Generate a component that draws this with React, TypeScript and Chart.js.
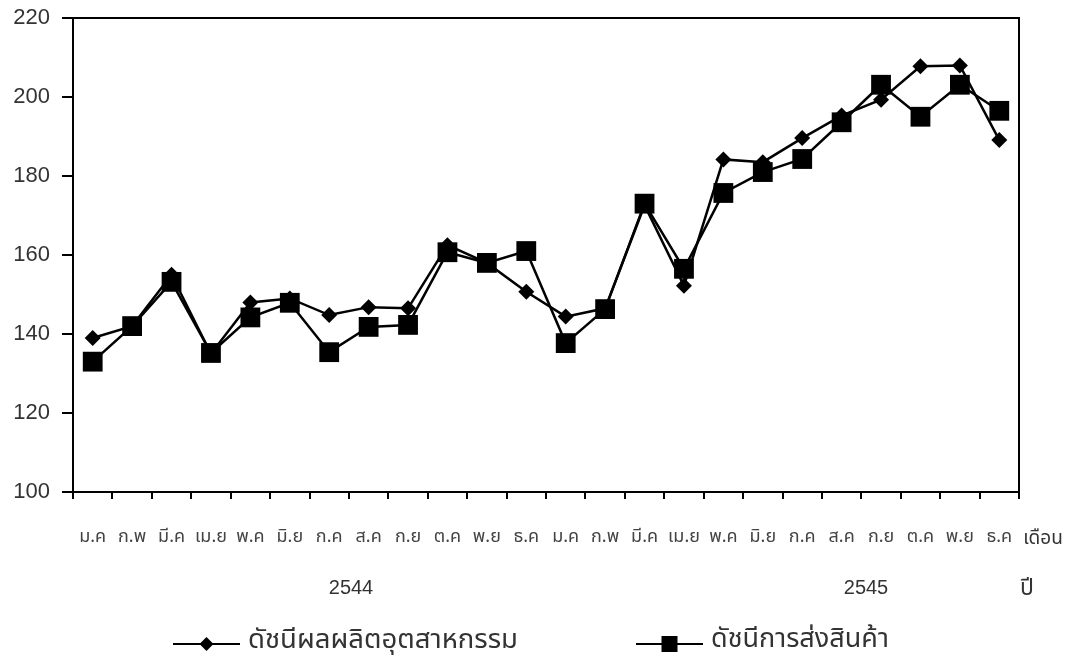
import React, { useEffect, useRef } from "react";
import { Chart, registerables } from "chart.js";

Chart.register(...registerables);

const months = ["ม.ค", "ก.พ", "มี.ค", "เม.ย", "พ.ค", "มิ.ย", "ก.ค", "ส.ค", "ก.ย", "ต.ค", "พ.ย", "ธ.ค"];
const categories = [...months, ...months];
const years = ["2544", "2545"];
const monthAxisTitle = "เดือน";
const yearAxisTitle = "ปี";

const industryLabel = "ดัชนีผลผลิตอุตสาหกรรม";
const exportLabel = "ดัชนีการส่งสินค้า";

const industryIndex = [139, 142, 155, 135, 148, 149, 144.8, 146.8, 146.5, 162.5, 158, 150.7, 144.4, 146.5, 172.6, 152.2, 184.2, 183.5, 189.6, 195.3, 199.3, 207.8, 208, 189.1];
const exportIndex = [133, 142, 153.2, 135.2, 144.2, 147.9, 135.4, 141.8, 142.3, 160.7, 158, 161, 137.7, 146.3, 173, 156.5, 175.7, 181, 184.3, 193.6, 203.1, 195, 203.1, 196.5];

const yMin = 100;
const yMax = 220;
const yStep = 20;

const THAI = '"Noto Sans Thai", "Noto Sans Thai UI", Loma, Garuda, "Tlwg Typo", Norasi, "Noto Sans", sans-serif';
const LATIN = '"Liberation Sans", Arial, sans-serif';

const fitFont = (ctx: any, text: string, family: string, width: number) => {
  ctx.font = `20px ${family}`;
  const w = ctx.measureText(text).width;
  const size = Math.max(8, Math.min(40, (20 * width) / Math.max(1, w)));
  ctx.font = `${size.toFixed(1)}px ${family}`;
};

const extrasPlugin = {
  id: "extras",
  afterDraw(chart: any) {
    const { ctx, chartArea } = chart;
    ctx.save();
    ctx.strokeStyle = "#000";
    ctx.lineWidth = 2;
    ctx.beginPath();
    ctx.moveTo(chartArea.left, chartArea.top);
    ctx.lineTo(chartArea.right, chartArea.top);
    ctx.lineTo(chartArea.right, chartArea.bottom);
    ctx.stroke();

    ctx.fillStyle = "#333";
    ctx.textAlign = "center";
    ctx.textBaseline = "middle";
    ctx.font = `19px ${THAI}`;
    ctx.fillText(monthAxisTitle, 1043, 540);
    ctx.font = `20px ${LATIN}`;
    ctx.fillText(years[0], 351, 588);
    ctx.fillText(years[1], 866, 588);
    ctx.font = `23px ${THAI}`;
    ctx.fillText(yearAxisTitle, 1027, 590);

    const drawItem = (x0: number, x1l: number, label: string, style: string, textW: number) => {
      const cy = 644;
      ctx.strokeStyle = "#000";
      ctx.lineWidth = 2;
      ctx.beginPath();
      ctx.moveTo(x0, cy);
      ctx.lineTo(x1l, cy);
      ctx.stroke();
      const cx = (x0 + x1l) / 2;
      ctx.fillStyle = "#000";
      ctx.beginPath();
      if (style === "diamond") {
        ctx.moveTo(cx, cy - 7);
        ctx.lineTo(cx + 7, cy);
        ctx.lineTo(cx, cy + 7);
        ctx.lineTo(cx - 7, cy);
        ctx.closePath();
      } else {
        ctx.rect(cx - 8, cy - 8, 16, 16);
      }
      ctx.fill();
      ctx.fillStyle = "#333";
      ctx.textAlign = "left";
      fitFont(ctx, label, THAI, textW);
      ctx.fillText(label, x1l + 8, cy - 2);
    };
    drawItem(173, 240, industryLabel, "diamond", 270);
    drawItem(636, 703, exportLabel, "square", 178);
    ctx.restore();
  },
};

export default function App() {
  const ref = useRef<HTMLCanvasElement | null>(null);
  useEffect(() => {
    if (!ref.current) return;
    const chart = new Chart(ref.current, {
      type: "line",
      data: {
        labels: categories,
        datasets: [
          {
            label: industryLabel,
            data: industryIndex,
            borderColor: "#000",
            backgroundColor: "#000",
            borderWidth: 2.5,
            pointStyle: "rectRot",
            pointRadius: 8,
            pointBackgroundColor: "#000",
            pointBorderWidth: 0,
            tension: 0,
            order: 2,
          },
          {
            label: exportLabel,
            data: exportIndex,
            borderColor: "#000",
            backgroundColor: "#000",
            borderWidth: 2.5,
            pointStyle: "rect",
            pointRadius: 14,
            pointBackgroundColor: "#000",
            pointBorderWidth: 0,
            tension: 0,
            order: 1,
          },
        ],
      },
      options: {
        animation: false,
        responsive: false,
        devicePixelRatio: 1,
        layout: { padding: { top: 18, right: 66, left: 0, bottom: 0 } },
        plugins: {
          legend: { display: false },
          tooltip: { enabled: false },
        },
        scales: {
          x: {
            type: "category",
            offset: true,
            afterFit: (s: any) => {
              s.height = 173;
              s.paddingLeft = 0;
              s.paddingRight = 0;
            },
            border: { color: "#000", width: 2 },
            grid: { offset: true, drawOnChartArea: false, drawTicks: true, tickLength: 7, color: "#000", lineWidth: 2 },
            ticks: {
              autoSkip: false,
              maxRotation: 0,
              minRotation: 0,
              padding: 29,
              color: "#444",
              font: { family: THAI, size: 18 },
            },
          },
          y: {
            min: yMin,
            max: yMax,
            afterFit: (s: any) => {
              s.width = 73;
              s.paddingTop = 0;
              s.paddingBottom = 0;
            },
            border: { color: "#000", width: 2 },
            grid: { drawOnChartArea: false, drawTicks: true, tickLength: 11, color: "#000", lineWidth: 2 },
            ticks: {
              stepSize: yStep,
              padding: 12,
              color: "#333",
              font: { family: LATIN, size: 22 },
            },
          },
        },
      },
      plugins: [extrasPlugin],
    });
    return () => chart.destroy();
  }, []);
  return (
    <div style={{ position: "absolute", left: 0, top: 0, width: 1085, height: 665, background: "#fff" }}>
      <canvas ref={ref} width={1085} height={665} style={{ display: "block", width: 1085, height: 665 }} />
    </div>
  );
}
